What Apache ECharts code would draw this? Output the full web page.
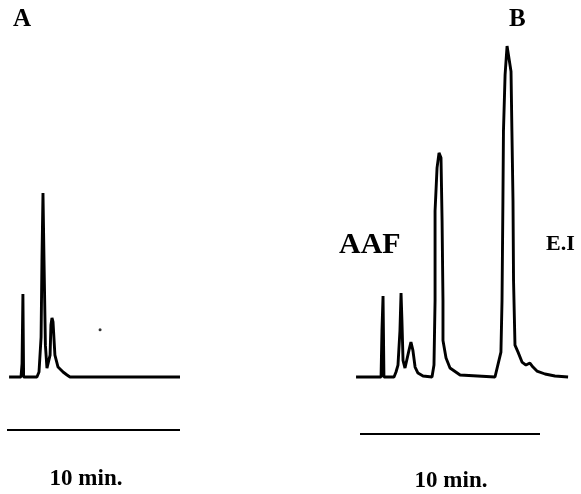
<!DOCTYPE html>
<html>
<head>
<meta charset="utf-8">
<script src="https://cdn.jsdelivr.net/npm/echarts@6/dist/echarts.min.js"></script>
<style>html,body{margin:0;padding:0;background:#fff}#c{width:581px;height:494px}</style>
</head>
<body>
<div id="c"></div>
<script>
// Panel A chromatogram: [time (min), response]
const traceA = [
  [0.12,0],[0.81,0],[0.87,4],[0.92,25],[0.96,0],[1.73,0],[1.85,1.5],[1.97,12],[2.02,35],[2.08,55.4],
  [2.14,35],[2.22,9.6],[2.31,2.7],[2.37,2.1],[2.49,6.6],[2.54,15.7],[2.60,17.8],[2.66,16.6],[2.77,6.6],
  [2.95,3],[3.24,1.5],[3.47,0.6],[3.64,0],[10,0]
];
// Panel B chromatogram: [time (min), response]
const traceB = [
  [-0.22,0],[1.17,0],[1.22,14],[1.28,24.4],[1.33,0],[1.89,0],[2.0,1.5],[2.11,3.6],[2.22,14],[2.28,25.3],
  [2.33,17],[2.39,5],[2.5,2.7],[2.61,3],[2.72,8],[2.83,10.5],[2.94,8],[3.06,3],[3.22,1.2],[3.5,0.3],
  [4.0,0],[4.11,3.6],[4.17,23],[4.17,50],[4.28,63],[4.39,67.5],[4.5,66],[4.56,47],[4.61,23],[4.61,11],
  [4.78,5.7],[5.0,2.7],[5.56,0.6],[7.5,0],[7.61,0.3],[7.72,5],[7.83,7.5],[7.89,23],[7.94,53],[7.97,74],
  [8.06,91],[8.17,99.7],[8.28,100],[8.39,92],[8.44,74],[8.5,53],[8.53,29],[8.61,9.6],[8.78,7.5],
  [9.0,4.5],[9.22,3.6],[9.44,4.2],[9.61,3],[9.83,1.8],[10.28,0.9],[10.83,0.3],[11.56,0]
];
// 10-minute scale bars [time, level]
const barA = [[0,-16],[10,-16]];
const barB = [[0,-17.2],[10,-17.2]];
const dotA = [[5.38,14.2]];
const panelLabels = ['A','B'];
const peakLabels = ['AAF','E.I'];
const scaleLabel = '10 min.';

const chart = echarts.init(document.getElementById('c'), null, {renderer:'canvas'});
const font = '"Liberation Serif","Times New Roman",serif';
const lineStyle = {color:'#000', width:2.9};
const hiddenX = (i,min,max)=>({type:'value',gridIndex:i,min:min,max:max,show:false});
const hiddenY = (i)=>({type:'value',gridIndex:i,min:-30,max:100,show:false});
const txt = (s,x,y,size,align)=>({type:'text',x:x,y:y,style:{text:s,fill:'#000',font:'bold '+size+'px '+font,textAlign:align||'left',textVerticalAlign:'top'}});
chart.setOption({
  animation:false,
  backgroundColor:'#fff',
  grid:[
    {left:7,width:173,top:45,height:431.6},
    {left:342,width:234,top:45,height:431.6}
  ],
  xAxis:[hiddenX(0,0,10),hiddenX(1,-1,12)],
  yAxis:[hiddenY(0),hiddenY(1)],
  series:[
    {type:'line',xAxisIndex:0,yAxisIndex:0,data:traceA,showSymbol:false,lineStyle:lineStyle},
    {type:'line',xAxisIndex:1,yAxisIndex:1,data:traceB,showSymbol:false,lineStyle:lineStyle},
    {type:'line',xAxisIndex:0,yAxisIndex:0,data:barA,showSymbol:false,lineStyle:{color:'#000',width:2}},
    {type:'line',xAxisIndex:1,yAxisIndex:1,data:barB,showSymbol:false,lineStyle:{color:'#000',width:2}},
    {type:'scatter',xAxisIndex:0,yAxisIndex:0,data:dotA,symbolSize:3,itemStyle:{color:'#000'}}
  ],
  graphic:[
    txt(panelLabels[0],13,7,25),
    txt(panelLabels[1],509,7,25),
    txt(peakLabels[0],339,230,30),
    txt(peakLabels[1],546,233,22),
    txt(scaleLabel,86,468,23,'center'),
    txt(scaleLabel,451,470,23,'center')
  ]
});
</script>
</body>
</html>
